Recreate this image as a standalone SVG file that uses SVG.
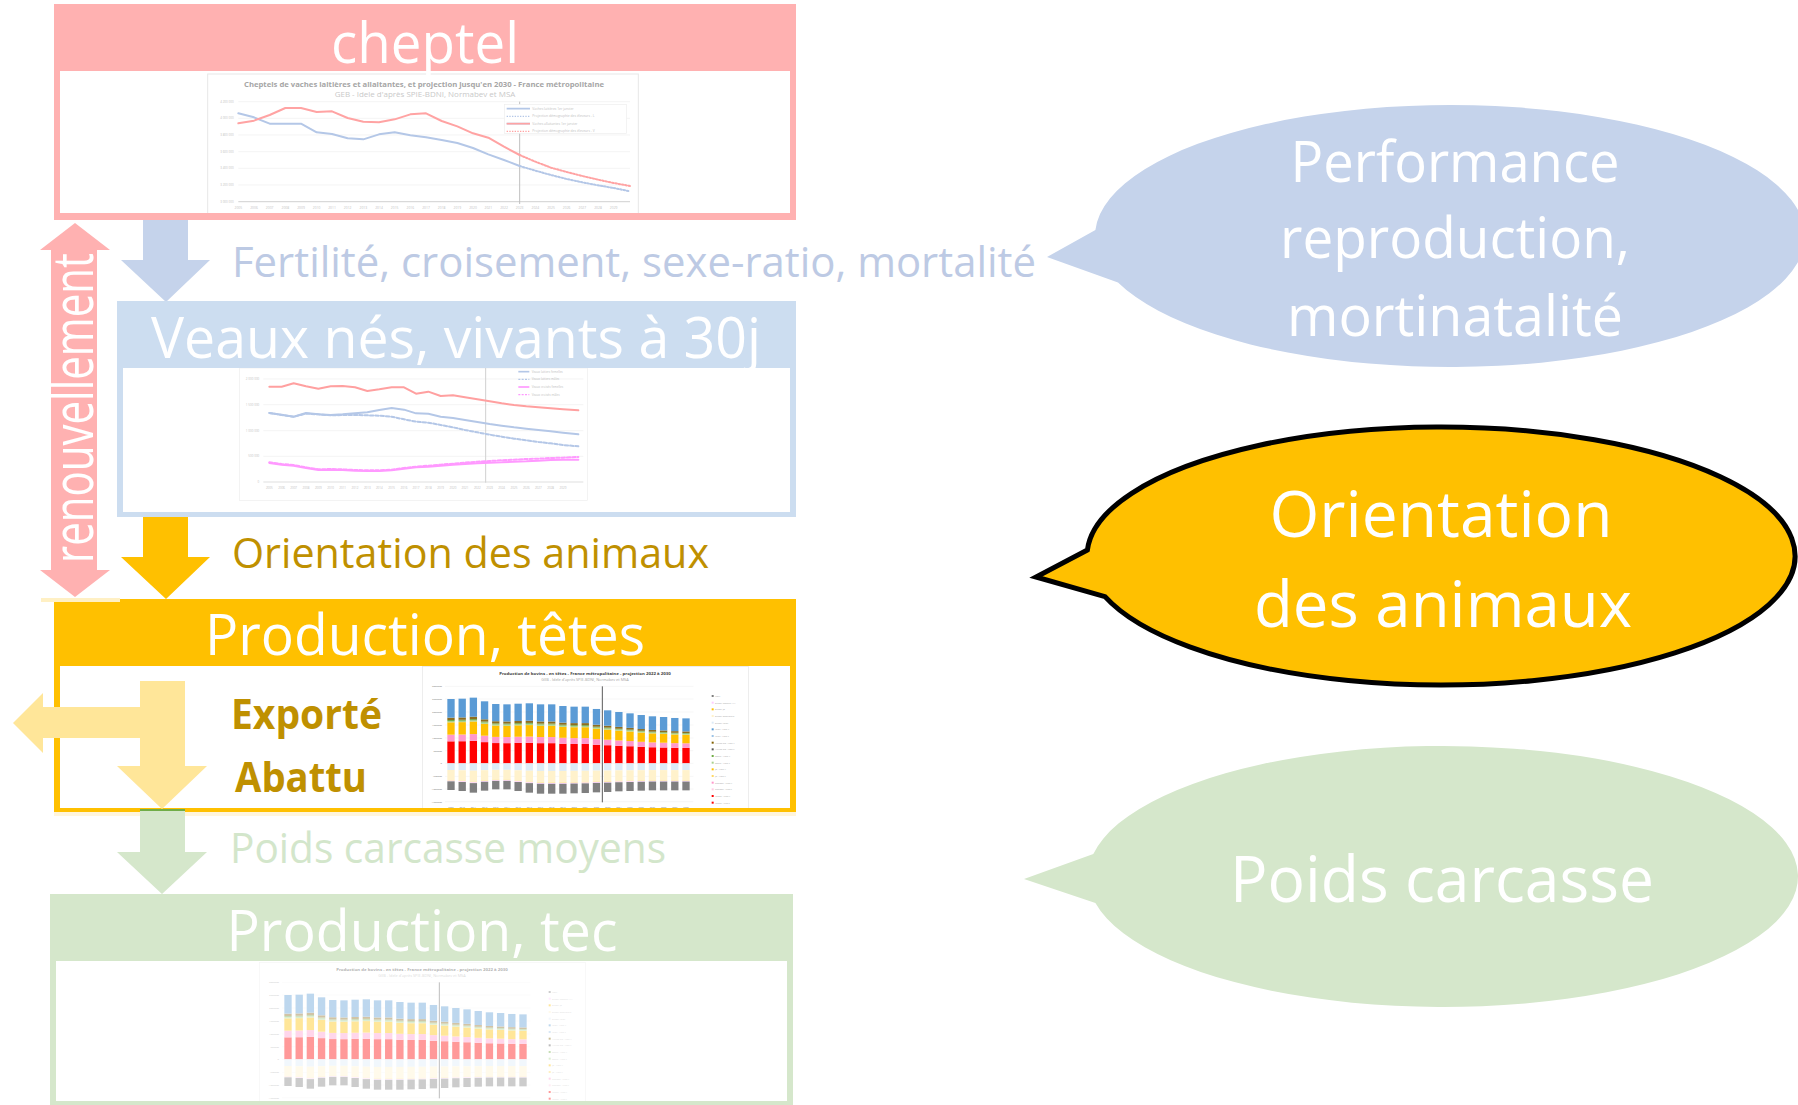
<svg xmlns="http://www.w3.org/2000/svg" width="1798" height="1105" viewBox="0 0 1798 1105">
<defs>
<style>
text{font-family:"Open Sans","Noto Sans","Liberation Sans",sans-serif}
.hd{fill:#fff;font-size:56px;text-anchor:middle}
.co{fill:#fff;text-anchor:middle}
.ax{fill:#BFBFBF}
.gl{stroke:#EFEFEF;stroke-width:2;fill:none}
.ln{fill:none;stroke-width:6;stroke-linejoin:round;stroke-linecap:round}
.lg{fill:#A6A6A6;font-size:7px}
</style>
<clipPath id="cC"><rect x="60" y="71" width="730" height="142"/></clipPath>
<clipPath id="cV"><rect x="123" y="368" width="667" height="144"/></clipPath>
<clipPath id="cP"><rect x="60" y="666" width="730" height="142"/></clipPath>
<clipPath id="cT"><rect x="56" y="961" width="731" height="140"/></clipPath>
<g id="bu">
<rect x="-11" y="-66" width="22" height="66" fill="#FF0000"/>
<rect x="-11" y="-86" width="22" height="20" fill="#FF99CC"/>
<rect x="-11" y="-123" width="22" height="37" fill="#FFC000"/>
<rect x="-11" y="-127" width="22" height="4" fill="#A9D18E"/>
<rect x="-11" y="-130" width="22" height="3" fill="#70AD47"/>
<rect x="-11" y="-137" width="22" height="7" fill="#8C6D1F"/>
<rect x="-11" y="-193" width="22" height="56" fill="#5B9BD5"/>
</g>
<g id="bd">
<rect x="-11" y="0" width="22" height="20" fill="#DDEBF7"/>
<rect x="-11" y="20" width="22" height="30" fill="#FFF2CC"/>
<rect x="-11" y="50" width="22" height="2" fill="#FFE699"/>
<rect x="-11" y="52" width="22" height="2" fill="#FFCCFF"/>
<rect x="-11" y="54" width="22" height="26" fill="#7F7F7F"/>
</g>
<g id="chartP" transform="translate(420,664) scale(0.333333)">
<rect x="8" y="8" width="977" height="440" fill="#fff" stroke="#E5E5E5" stroke-width="2"/>
<text x="495" y="34" font-size="12" font-weight="bold" fill="#404040" text-anchor="middle" textLength="515" lengthAdjust="spacingAndGlyphs">Production de bovins - en têtes - France métropolitaine - projection 2022 à 2030</text>
<text x="495" y="51" font-size="10" fill="#A6A6A6" text-anchor="middle" textLength="262" lengthAdjust="spacingAndGlyphs">GEB - Idele d'après SPIE-BDNI, Normabev et MSA</text>
<path d="M75 67H820M75 105H820M75 144H820M75 183H820M75 222H820M75 260H820M75 298H820M75 337H820M75 375H820M75 413H820" stroke="#EDEDED" stroke-width="1.5"/>
<text font-size="7.5" fill="#808080" text-anchor="end"><tspan x="66" y="70">3000000</tspan><tspan x="66" y="108">2500000</tspan><tspan x="66" y="147">2000000</tspan><tspan x="66" y="186">1500000</tspan><tspan x="66" y="225">1000000</tspan><tspan x="66" y="263">500000</tspan><tspan x="66" y="301">0</tspan><tspan x="66" y="340">-500000</tspan><tspan x="66" y="378">-1000000</tspan><tspan x="66" y="416">-1500000</tspan></text>
<use href="#bu" transform="translate(93,298) scale(1,1)"/><use href="#bd" transform="translate(93,298) scale(1,1)"/>
<use href="#bu" transform="translate(126.6,298) scale(1,1.005)"/><use href="#bd" transform="translate(126.6,298) scale(1,1.038)"/>
<use href="#bu" transform="translate(160.1,298) scale(1,1.021)"/><use href="#bd" transform="translate(160.1,298) scale(1,1.1)"/>
<use href="#bu" transform="translate(193.7,298) scale(1,0.964)"/><use href="#bd" transform="translate(193.7,298) scale(1,1.025)"/>
<use href="#bu" transform="translate(227.3,298) scale(1,0.922)"/><use href="#bd" transform="translate(227.3,298) scale(1,0.975)"/>
<use href="#bu" transform="translate(260.9,298) scale(1,0.917)"/><use href="#bd" transform="translate(260.9,298) scale(1,0.975)"/>
<use href="#bu" transform="translate(294.4,298) scale(1,0.927)"/><use href="#bd" transform="translate(294.4,298) scale(1,1.038)"/>
<use href="#bu" transform="translate(328,298) scale(1,0.933)"/><use href="#bd" transform="translate(328,298) scale(1,1.1)"/>
<use href="#bu" transform="translate(361.6,298) scale(1,0.917)"/><use href="#bd" transform="translate(361.6,298) scale(1,1.138)"/>
<use href="#bu" transform="translate(395.1,298) scale(1,0.917)"/><use href="#bd" transform="translate(395.1,298) scale(1,1.138)"/>
<use href="#bu" transform="translate(428.7,298) scale(1,0.891)"/><use href="#bd" transform="translate(428.7,298) scale(1,1.138)"/>
<use href="#bu" transform="translate(462.3,298) scale(1,0.881)"/><use href="#bd" transform="translate(462.3,298) scale(1,1.125)"/>
<use href="#bu" transform="translate(495.8,298) scale(1,0.881)"/><use href="#bd" transform="translate(495.8,298) scale(1,1.113)"/>
<use href="#bu" transform="translate(529.4,298) scale(1,0.845)"/><use href="#bd" transform="translate(529.4,298) scale(1,1.088)"/>
<use href="#bu" transform="translate(563,298) scale(1,0.824)"/><use href="#bd" transform="translate(563,298) scale(1,1.075)"/>
<use href="#bu" transform="translate(596.6,298) scale(1,0.798)"/><use href="#bd" transform="translate(596.6,298) scale(1,1.05)"/>
<use href="#bu" transform="translate(630.1,298) scale(1,0.777)"/><use href="#bd" transform="translate(630.1,298) scale(1,1.038)"/>
<use href="#bu" transform="translate(663.7,298) scale(1,0.751)"/><use href="#bd" transform="translate(663.7,298) scale(1,1.025)"/>
<use href="#bu" transform="translate(697.3,298) scale(1,0.731)"/><use href="#bd" transform="translate(697.3,298) scale(1,1.013)"/>
<use href="#bu" transform="translate(730.8,298) scale(1,0.72)"/><use href="#bd" transform="translate(730.8,298) scale(1,1.013)"/>
<use href="#bu" transform="translate(764.4,298) scale(1,0.705)"/><use href="#bd" transform="translate(764.4,298) scale(1,1.013)"/>
<use href="#bu" transform="translate(798,298) scale(1,0.699)"/><use href="#bd" transform="translate(798,298) scale(1,1.013)"/>
<path d="M547 67V415" stroke="#595959" stroke-width="3"/>
<text font-size="7" fill="#808080" text-anchor="middle"><tspan x="93" y="432">2009</tspan><tspan x="126.6" y="432">2010</tspan><tspan x="160.1" y="432">2011</tspan><tspan x="193.7" y="432">2012</tspan><tspan x="227.3" y="432">2013</tspan><tspan x="260.9" y="432">2014</tspan><tspan x="294.4" y="432">2015</tspan><tspan x="328" y="432">2016</tspan><tspan x="361.6" y="432">2017</tspan><tspan x="395.1" y="432">2018</tspan><tspan x="428.7" y="432">2019</tspan><tspan x="462.3" y="432">2020</tspan><tspan x="495.8" y="432">2021</tspan><tspan x="529.4" y="432">2022</tspan><tspan x="563" y="432">2023</tspan><tspan x="596.6" y="432">2024</tspan><tspan x="630.1" y="432">2025</tspan><tspan x="663.7" y="432">2026</tspan><tspan x="697.3" y="432">2027</tspan><tspan x="730.8" y="432">2028</tspan><tspan x="764.4" y="432">2029</tspan><tspan x="798" y="432">2030</tspan></text>
<rect x="875" y="93" width="6" height="6" fill="#7F7F7F"/>
<rect x="875" y="113" width="6" height="6" fill="#FFCCFF"/>
<rect x="875" y="133" width="6" height="6" fill="#FFC000"/>
<rect x="875" y="153" width="6" height="6" fill="#FFF2CC"/>
<rect x="875" y="173" width="6" height="6" fill="#DEEBF7"/>
<rect x="875" y="193" width="6" height="6" fill="#5B9BD5"/>
<rect x="875" y="213" width="6" height="6" fill="#9DC3E6"/>
<rect x="875" y="233" width="6" height="6" fill="#806000"/>
<rect x="875" y="253" width="6" height="6" fill="#595959"/>
<rect x="875" y="273" width="6" height="6" fill="#70AD47"/>
<rect x="875" y="293" width="6" height="6" fill="#A9D18E"/>
<rect x="875" y="313" width="6" height="6" fill="#FFC000"/>
<rect x="875" y="333" width="6" height="6" fill="#FFD966"/>
<rect x="875" y="353" width="6" height="6" fill="#FF99CC"/>
<rect x="875" y="373" width="6" height="6" fill="#FFCCE5"/>
<rect x="875" y="393" width="6" height="6" fill="#FF0000"/>
<rect x="875" y="413" width="6" height="6" fill="#FF0000"/>
<text class="lg"><tspan x="885" y="99">Mort</tspan><tspan x="885" y="119">Export femelle &gt;1A</tspan><tspan x="885" y="139">Export JB</tspan><tspan x="885" y="159">Export Broutard.e</tspan><tspan x="885" y="179">Export Veau</tspan><tspan x="885" y="199">Veau - type V</tspan><tspan x="885" y="219">Veau - type L</tspan><tspan x="885" y="239">Autres GB - type V</tspan><tspan x="885" y="259">Autres GB - type L</tspan><tspan x="885" y="279">Boeuf - type V</tspan><tspan x="885" y="299">Boeuf - type L</tspan><tspan x="885" y="319">JB - type V</tspan><tspan x="885" y="339">JB - type L</tspan><tspan x="885" y="359">Génisse - type V</tspan><tspan x="885" y="379">Génisse - type L</tspan><tspan x="885" y="399">Vache - type V</tspan><tspan x="885" y="419">Vache - type L</tspan></text>
</g>
</defs>
<rect width="1798" height="1105" fill="#fff"/>

<g id="connectors">
<polygon id="arrow-renouvellement" points="75,223 110,250 97,250 97,570 110,570 75,597 40,570 51,570 51,250 40,250" fill="#FFB1B1"/>
<polygon id="arrow-fertilite" points="143,218 188,218 188,260 210,260 166,302 121,260 143,260" fill="#C5D3EB"/>
<polygon id="arrow-orientation" points="143,513 188,513 188,557 210,557 166,599 121,557 143,557" fill="#FFC000"/>
</g>

<g id="node-cheptel">
<rect x="54" y="4" width="742" height="216" fill="#FFB1B1"/>
<rect x="60" y="71" width="730" height="142" fill="#fff"/>
<g clip-path="url(#cC)"><g transform="translate(205,70) scale(0.333333)">
<rect x="8" y="12" width="1292" height="430" fill="#fff" stroke="#E8E8E8" stroke-width="3"/>
<text x="657" y="50" font-size="19" font-weight="bold" fill="#A6A6A6" text-anchor="middle" textLength="1080" lengthAdjust="spacingAndGlyphs">Cheptels de vaches laitières et allaitantes, et projection jusqu'en 2030 - France métropolitaine</text>
<text x="660" y="82" font-size="21" fill="#C9C9C9" text-anchor="middle" textLength="542" lengthAdjust="spacingAndGlyphs">GEB - Idele d'après SPIE-BDNI, Normabev et MSA</text>
<path class="gl" d="M100 95H1275M100 145H1275M100 195H1275M100 245H1275M100 295H1275M100 345H1275"/>
<path d="M100 395H1275" stroke="#D9D9D9" stroke-width="4"/>
<text class="ax" font-size="9" text-anchor="end"><tspan x="86" y="98">4 200 000</tspan><tspan x="86" y="148">4 000 000</tspan><tspan x="86" y="198">3 800 000</tspan><tspan x="86" y="248">3 600 000</tspan><tspan x="86" y="298">3 400 000</tspan><tspan x="86" y="348">3 200 000</tspan><tspan x="86" y="398">3 000 000</tspan></text>
<text class="ax" font-size="10" text-anchor="middle"><tspan x="100" y="418">2005</tspan><tspan x="147" y="418">2006</tspan><tspan x="194" y="418">2007</tspan><tspan x="241" y="418">2008</tspan><tspan x="288" y="418">2009</tspan><tspan x="335" y="418">2010</tspan><tspan x="381" y="418">2011</tspan><tspan x="428" y="418">2012</tspan><tspan x="475" y="418">2013</tspan><tspan x="522" y="418">2014</tspan><tspan x="569" y="418">2015</tspan><tspan x="616" y="418">2016</tspan><tspan x="663" y="418">2017</tspan><tspan x="710" y="418">2018</tspan><tspan x="757" y="418">2019</tspan><tspan x="804" y="418">2020</tspan><tspan x="850" y="418">2021</tspan><tspan x="897" y="418">2022</tspan><tspan x="944" y="418">2023</tspan><tspan x="991" y="418">2024</tspan><tspan x="1038" y="418">2025</tspan><tspan x="1085" y="418">2026</tspan><tspan x="1132" y="418">2027</tspan><tspan x="1179" y="418">2028</tspan><tspan x="1226" y="418">2029</tspan></text>
<path d="M944 95V402" stroke="#BFBFBF" stroke-width="3"/>
<rect x="898" y="103" width="367" height="87" fill="#fff" stroke="#EDEDED" stroke-width="2"/>
<path d="M905 116H975M905 161H975" stroke-width="5" fill="none" stroke="#B4C7E7"/>
<path d="M905 139H975" stroke-width="4" fill="none" stroke="#B4C7E7" stroke-dasharray="4 4"/>
<path d="M905 161H975" stroke-width="5" fill="none" stroke="#FFA3A3"/>
<path d="M905 184H975" stroke-width="4" fill="none" stroke="#FFA3A3" stroke-dasharray="4 4"/>
<text class="ax" font-size="10"><tspan x="982" y="119">Vaches laitières 1er janvier</tspan><tspan x="982" y="142">Projection démographie des éleveurs - L</tspan><tspan x="982" y="164">Vaches allaitantes 1er janvier</tspan><tspan x="982" y="187">Projection démographie des éleveurs - V</tspan></text>
<polyline class="ln" stroke="#B4C7E7" points="100,130 147,142 194,161 241,161 288,161 335,187 381,192 428,205 475,208 522,193 569,187 616,196 663,202 710,210 757,219 804,234 850,253 897,270 944,288"/>
<polyline class="ln" stroke="#B4C7E7" stroke-dasharray="5 5" stroke-linecap="butt" points="944,288 991,302 1038,315 1085,327 1132,337 1179,346 1226,354 1275,364"/>
<polyline class="ln" stroke="#FFA3A3" points="100,160 147,152 194,135 241,114 288,114 335,126 381,124 428,144 475,155 522,157 569,148 616,133 663,130 710,153 757,169 804,190 850,203 897,230 944,255"/>
<polyline class="ln" stroke="#FFA3A3" stroke-dasharray="5 5" stroke-linecap="butt" points="944,255 991,275 1038,293 1085,306 1132,318 1179,329 1226,339 1275,348"/>
</g></g>
<text class="hd" x="425" y="63" textLength="188" lengthAdjust="spacingAndGlyphs">cheptel</text>
</g>

<g id="node-veaux">
<rect x="117" y="301" width="679" height="216" fill="#CCDDF0"/>
<rect x="123" y="368" width="667" height="144" fill="#fff"/>
<g clip-path="url(#cV)"><g transform="translate(230,364) scale(0.333333)">
<rect x="28" y="12" width="1044" height="398" fill="#fff" stroke="#EEEEEE" stroke-width="2"/>
<path class="gl" d="M100 45H1060M100 122H1060M100 200H1060M100 277H1060"/>
<path d="M100 354H1060" stroke="#E0E0E0" stroke-width="3"/>
<path d="M767 10V356" stroke="#D0D0D0" stroke-width="3"/>
<text class="ax" font-size="9" text-anchor="end" fill="#D0D0D0"><tspan x="88" y="48">2 000 000</tspan><tspan x="88" y="125">1 500 000</tspan><tspan x="88" y="203">1 000 000</tspan><tspan x="88" y="280">500 000</tspan><tspan x="88" y="357">0</tspan></text>
<text class="ax" font-size="9" text-anchor="middle"><tspan x="118" y="374">2005</tspan><tspan x="155" y="374">2006</tspan><tspan x="191" y="374">2007</tspan><tspan x="228" y="374">2008</tspan><tspan x="265" y="374">2009</tspan><tspan x="302" y="374">2010</tspan><tspan x="338" y="374">2011</tspan><tspan x="375" y="374">2012</tspan><tspan x="412" y="374">2013</tspan><tspan x="448" y="374">2014</tspan><tspan x="485" y="374">2015</tspan><tspan x="522" y="374">2016</tspan><tspan x="558" y="374">2017</tspan><tspan x="595" y="374">2018</tspan><tspan x="632" y="374">2019</tspan><tspan x="669" y="374">2020</tspan><tspan x="705" y="374">2021</tspan><tspan x="742" y="374">2022</tspan><tspan x="779" y="374">2023</tspan><tspan x="815" y="374">2024</tspan><tspan x="852" y="374">2025</tspan><tspan x="889" y="374">2026</tspan><tspan x="925" y="374">2027</tspan><tspan x="962" y="374">2028</tspan><tspan x="999" y="374">2029</tspan></text>
<path d="M865 23H898" stroke="#B4C7E7" stroke-width="5"/>
<path d="M865 46H898" stroke="#B4C7E7" stroke-width="4" stroke-dasharray="6 4"/>
<path d="M865 69H898" stroke="#FF99FF" stroke-width="5"/>
<path d="M865 92H898" stroke="#FF99FF" stroke-width="4" stroke-dasharray="6 4"/>
<text class="ax" font-size="9" fill="#D0D0D0"><tspan x="905" y="26">Veaux laitiers femelles</tspan><tspan x="905" y="49">Veaux laitiers mâles</tspan><tspan x="905" y="72">Veaux croisés femelles</tspan><tspan x="905" y="95">Veaux croisés mâles</tspan></text>
<polyline class="ln" stroke="#FFA0A0" points="118,68 155,68 191,58 228,67 265,74 302,67 338,66 375,70 412,81 448,76 485,70 522,70 558,89 595,83 632,96 669,94 705,100 742,106 779,112 815,118 852,123 889,127 925,130 962,133 999,136 1045,139"/>
<polyline class="ln" stroke="#B4C7E7" points="118,147 155,152 191,158 228,147 265,151 302,153 338,151 375,148 412,145 448,138 485,132 522,137 558,148 595,149 632,158 669,162 705,168 742,174 779,180 815,185 852,190 889,194 925,198 962,202 999,206 1045,211"/>
<polyline class="ln" stroke="#B4C7E7" stroke-width="4" stroke-dasharray="10 6" stroke-linecap="butt" points="118,147 155,153 191,158 228,149 265,151 302,154 338,153 375,153 412,154 448,155 485,158 522,166 558,173 595,176 632,183 669,190 705,198 742,205 779,212 815,218 852,224 889,229 925,234 962,238 999,243 1045,247"/>
<polyline class="ln" stroke="#FF99FF" points="118,297 155,302 191,305 228,312 265,318 302,317 338,318 375,320 412,321 448,321 485,319 522,314 558,310 595,308 632,305 669,302 705,300 742,298 779,296 815,295 852,293 889,292 925,290 962,288 999,287 1045,287"/>
<polyline class="ln" stroke="#FF99FF" stroke-width="5" stroke-dasharray="10 6" stroke-linecap="butt" points="118,295 155,300 191,303 228,310 265,316 302,315 338,316 375,318 412,319 448,319 485,317 522,312 558,308 595,305 632,302 669,299 705,296 742,293 779,291 815,289 852,287 889,285 925,284 962,282 999,281 1045,279"/>
</g></g>
<text class="hd" x="456" y="358" textLength="610" lengthAdjust="spacingAndGlyphs">Veaux nés, vivants à 30j</text>
</g>

<g id="node-production-tetes">
<rect x="54" y="599" width="742" height="213" fill="#FFC000"/>
<rect x="60" y="666" width="730" height="142" fill="#fff"/>
<g clip-path="url(#cP)"><use href="#chartP"/></g>
<text class="hd" x="425" y="655" textLength="440" lengthAdjust="spacingAndGlyphs">Production, têtes</text>
<rect x="41" y="598" width="79" height="4" fill="#FFF0C4"/>
<rect x="54" y="812" width="742" height="4" fill="#FFF5DC"/>
</g>

<g id="connectors-2">
<polygon id="arrow-export-abattu" points="140,681 185,681 185,766 207,766 162,809 117,766 140,766 140,738 43,738 43,753 13,723 43,693 43,707 140,707" fill="#FFE699"/>
<polygon id="arrow-poids" points="140,809 185,809 185,852 207,852 162,894 117,852 140,852" fill="#D5E7CB"/>
<rect x="140" y="809" width="45" height="2" fill="#70AD47"/>
</g>

<g id="label-export">
<text x="231" y="729" font-size="41" font-weight="bold" fill="#BF9000" textLength="151" lengthAdjust="spacingAndGlyphs">Exporté</text>
<text x="235" y="792" font-size="41" font-weight="bold" fill="#BF9000" textLength="132" lengthAdjust="spacingAndGlyphs">Abattu</text>
</g>

<g id="node-production-tec">
<rect x="50" y="894" width="743" height="211" fill="#D5E7CB"/>
<rect x="56" y="961" width="731" height="140" fill="#fff"/>
<g clip-path="url(#cT)"><use href="#chartP" transform="translate(-163,296)"/><rect x="56" y="961" width="731" height="140" fill="#fff" opacity="0.6"/></g>
<text class="hd" x="422" y="951" textLength="391" lengthAdjust="spacingAndGlyphs">Production, tec</text>
</g>

<g id="labels">
<text transform="translate(93,408) rotate(-90)" font-size="56" fill="#fff" text-anchor="middle" textLength="310" lengthAdjust="spacingAndGlyphs">renouvellement</text>
<text x="232" y="277" font-size="42" fill="#BDCAE4" textLength="804" lengthAdjust="spacingAndGlyphs">Fertilité, croisement, sexe-ratio, mortalité</text>
<text x="232" y="568" font-size="42" fill="#BF9000" textLength="477" lengthAdjust="spacingAndGlyphs">Orientation des animaux</text>
<text x="230" y="863" font-size="42" fill="#D3E6CB" textLength="436" lengthAdjust="spacingAndGlyphs">Poids carcasse moyens</text>
</g>

<g id="callout-performance">
<path d="M1095.4,230 L1047,257 L1118,282.4 A355,131 0 1 0 1095.4,230 Z" fill="#C5D3EB"/>
<text class="co" font-size="56"><tspan x="1455" y="182" textLength="329" lengthAdjust="spacingAndGlyphs">Performance</tspan></text>
<text class="co" font-size="56" x="1455" y="258" textLength="350" lengthAdjust="spacingAndGlyphs">reproduction,</text>
<text class="co" font-size="56" x="1455" y="336" textLength="336" lengthAdjust="spacingAndGlyphs">mortinatalité</text>
</g>

<g id="callout-orientation">
<path d="M1087.4,550 L1036,577 L1105,596.6 A354,129 0 1 0 1087.4,550 Z" fill="#FFC000" stroke="#000" stroke-width="5" stroke-miterlimit="10"/>
<text class="co" font-size="64" x="1441" y="537" textLength="343" lengthAdjust="spacingAndGlyphs">Orientation</text>
<text class="co" font-size="64" x="1443" y="627" textLength="378" lengthAdjust="spacingAndGlyphs">des animaux</text>
</g>

<g id="callout-poids">
<path d="M1093.3,854 L1024,879 L1095.4,903 A355,130.5 0 1 0 1093.3,854 Z" fill="#D5E7CB"/>
<text class="co" font-size="64" x="1442" y="902" textLength="424" lengthAdjust="spacingAndGlyphs">Poids carcasse</text>
</g>
</svg>
